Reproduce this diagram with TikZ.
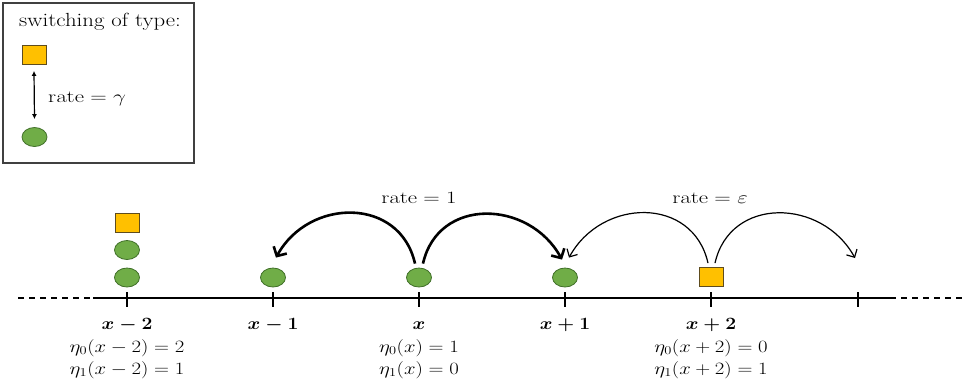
\documentclass[tikz,border=0pt]{standalone}
\usepackage{amsmath}
\usetikzlibrary{arrows.meta,shapes.geometric}
\definecolor{pgreen}{HTML}{70AD47}
\definecolor{pgreenb}{HTML}{41702A}
\definecolor{pgold}{HTML}{FFC000}
\definecolor{pgoldb}{HTML}{5E4C1E}
\definecolor{boxgray}{HTML}{404040}
\newcommand{\widetxt}[1]{\scalebox{1.2}[1]{#1}}
\newcommand{\widerate}[1]{\scalebox{1.32}[1]{#1}}
\newcommand{\wideeta}[1]{\scalebox{1.2}[1]{#1}}
\newcommand{\widebold}[1]{\scalebox{1.12}[1]{#1}}
\begin{document}
\begin{tikzpicture}[x=1pt,y=-1pt,
  circ/.style={ellipse, minimum width=25pt, minimum height=19pt, inner sep=0pt, fill=pgreen, draw=pgreenb, line width=0.8pt},
  sq/.style={rectangle, minimum width=24pt, minimum height=19pt, inner sep=0pt, fill=pgold, draw=pgoldb, line width=0.8pt},
  txt/.style={inner sep=0pt, anchor=base, font=\fontsize{19}{22}\selectfont},
  mtxt/.style={inner sep=0pt, anchor=base, font=\fontsize{18}{21}\selectfont},
  thickarc/.style={line width=2.6pt, -{Straight Barb[length=7pt,width=15pt]}},
  thinarc/.style={line width=1.2pt, -{Straight Barb[length=6pt,width=12pt]}},
  axis/.style={line width=1.3pt},
  tick/.style={line width=1.3pt},
]
\useasboundingbox (0,0) rectangle (967,386);

% legend
\draw[boxgray, line width=1.2pt] (3,3) rectangle (194,163);
\node[txt] (ltitle) at (100,26) {\widetxt{switching of type:}};
\node[sq] (lsq) at (34,55) {};
\node[circ] (lci) at (34.5,137) {};
\draw[line width=1.2pt, {Latex[length=5pt,width=5pt]}-{Latex[length=5pt,width=5pt]}]
  ([yshift=-6pt]lsq.south) -- ([yshift=8pt]lci.north);
\node[txt, anchor=base west] (lrate) at (48,102) {\widerate{$\mathrm{rate}=\gamma$}};

% axis
\coordinate (aL) at (18,298);
\coordinate (a1) at (93,298);
\coordinate (a2) at (890,298);
\coordinate (aR) at (967,298);
\draw[axis, dash pattern=on 6pt off 5pt] (aL) -- (a1);
\draw[axis] (a1) -- (a2);
\draw[axis, dash pattern=on 6pt off 5pt] (a2) -- (aR);
\foreach \n/\xx in {m2/127, m1/273, z/419, p1/565, p2/711, p3/858} {
  \coordinate (t\n) at (\xx,298);
  \draw[tick] ([yshift=6pt]t\n) -- ([yshift=-9pt]t\n);
}

% particles
\node[sq] (sxm2) at (127,222.5) {};
\node[circ] (cxm2b) at (127,250) {};
\node[circ] (cxm2a) at (127,277.5) {};
\node[circ] (cxm1) at (273,277.5) {};
\node[circ] (cx) at (419,277.5) {};
\node[circ] (cxp1) at (565,277.5) {};
\node[sq] (sxp2) at (711,277) {};

% jumps
\draw[thickarc] ([shift={(-4pt,4pt)}]cx.north) .. controls +(-15,-67) and +(33,-60) .. ([shift={(3pt,10pt)}]cxm1.north);
\draw[thickarc] ([shift={(4pt,4pt)}]cx.north) .. controls +(15,-67) and +(-33,-60) .. ([shift={(-3pt,8pt)}]cxp1.north);
\draw[thinarc] ([shift={(-3pt,4pt)}]sxp2.north) .. controls +(-15,-67) and +(33,-60) .. ([shift={(4pt,10pt)}]cxp1.north);
\draw[thinarc] ([shift={(4pt,4pt)}]sxp2.north) .. controls +(15,-67) and +(-33,-60) .. ([shift={(-3pt,40pt)}]tp3);

\node[txt] (r1) at (419,203) {\widerate{$\mathrm{rate}=1$}};
\node[txt] (reps) at (710,203) {\widerate{$\mathrm{rate}=\varepsilon$}};

% labels
\node[mtxt] (lm2) at (127,329) {\widebold{\boldmath$x-2$}};
\node[mtxt] (lm1) at (273,329) {\widebold{\boldmath$x-1$}};
\node[mtxt] (lz) at (419,329) {\widebold{\boldmath$x$}};
\node[mtxt] (lp1) at (565,329) {\widebold{\boldmath$x+1$}};
\node[mtxt] (lp2) at (711,329) {\widebold{\boldmath$x+2$}};

\node[mtxt] (em2a) at (127,352) {\wideeta{$\eta_0(x-2)=2$}};
\node[mtxt] (em2b) at (127,374) {\wideeta{$\eta_1(x-2)=1$}};
\node[mtxt] (eza) at (419,352) {\wideeta{$\eta_0(x)=1$}};
\node[mtxt] (ezb) at (419,374) {\wideeta{$\eta_1(x)=0$}};
\node[mtxt] (ep2a) at (711,352) {\wideeta{$\eta_0(x+2)=0$}};
\node[mtxt] (ep2b) at (711,374) {\wideeta{$\eta_1(x+2)=1$}};
\end{tikzpicture}
\end{document}
